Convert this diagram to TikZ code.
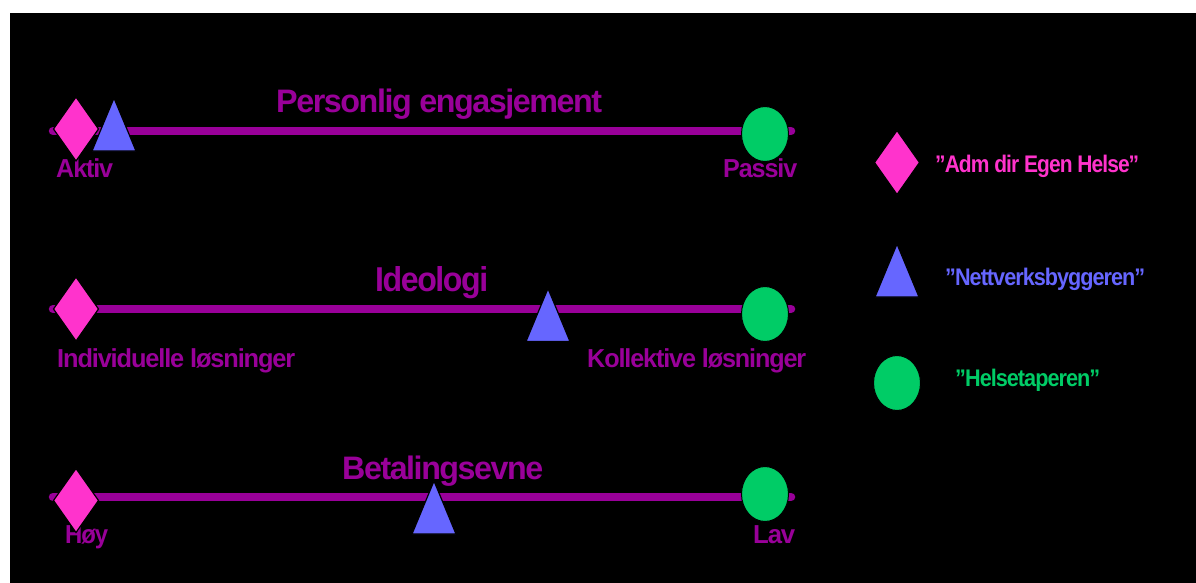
\documentclass[tikz,border=0pt]{standalone}
\usepackage{fontspec}
\setmainfont{Liberation Sans}
\usepackage{graphicx}
\definecolor{scalepurple}{HTML}{990099}
\definecolor{markpink}{HTML}{FF33CC}
\definecolor{markblue}{HTML}{6666FF}
\definecolor{markgreen}{HTML}{00CC66}
% tightly tracked bold text fitted to a given width, height kept
\newcommand{\fitto}[3]{\resizebox{#1pt}{\height}{\fontsize{#2}{#2}\selectfont\bfseries\addfontfeatures{LetterSpace=-4.5}#3}}
\begin{document}
\begin{tikzpicture}[x=1pt,y=-1pt,
  scaleline/.style={line width=8.5pt,scalepurple,line cap=round},
  txt/.style={inner sep=0pt,anchor=base west},
  dia/.pic={\filldraw[markpink,draw=black,line width=1.2pt] (0,-32)--(22.5,0)--(0,32)--(-22.5,0)--cycle;},
  tri/.pic={\filldraw[markblue,draw=black,line width=1.2pt] (0,-26.5)--(22,26.5)--(-22,26.5)--cycle;},
  oval/.pic={\filldraw[markgreen,draw=black,line width=1pt] (0,0) ellipse [x radius=23.5,y radius=27.5];}
]
\useasboundingbox (0,0) rectangle (1196,583);
\fill[white] (0,0) rectangle (1196,583);
\fill[black] (10,13) rectangle (1196,583);

% --- scale 1: Personlig engasjement
\coordinate (s1a) at (53,131);
\coordinate (s1b) at (791,131);
\draw[scaleline] (s1a) -- (s1b);
\node[txt,text=scalepurple] (t1) at (276,113) {\fitto{326}{32.5}{Personlig engasjement}};
\node[txt,text=scalepurple] (l1a) at (56,177) {\fitto{57}{26}{Aktiv}};
\node[txt,text=scalepurple] (l1b) at (723,177) {\fitto{74}{26}{Passiv}};
\pic at (765,134) {oval};
\pic at (114,124.5) {tri};
\pic at (76,129) {dia};

% --- scale 2: Ideologi
\coordinate (s2a) at (53,309);
\coordinate (s2b) at (791,309);
\draw[scaleline] (s2a) -- (s2b);
\node[txt,text=scalepurple] (t2) at (375,291) {\fitto{113}{34.5}{Ideologi}};
\node[txt,text=scalepurple] (l2a) at (57,367) {\fitto{238}{26}{Individuelle løsninger}};
\node[txt,text=scalepurple] (l2b) at (587,367) {\fitto{219}{26}{Kollektive løsninger}};
\pic at (765,314) {oval};
\pic at (548,315) {tri};
\pic at (76,309) {dia};

% --- scale 3: Betalingsevne
\coordinate (s3a) at (53,497);
\coordinate (s3b) at (791,497);
\draw[scaleline] (s3a) -- (s3b);
\node[txt,text=scalepurple] (t3) at (342,479) {\fitto{201}{32.5}{Betalingsevne}};
\node[txt,text=scalepurple] (l3a) at (65,543) {\fitto{43}{26}{Høy}};
\node[txt,text=scalepurple] (l3b) at (753,543) {\fitto{42}{26}{Lav}};
\pic at (765,494) {oval};
\pic at (434,507.5) {tri};
\pic at (76,500.5) {dia};

% --- legend
\pic at (897,162.5) {dia};
\node[txt,text=markpink] (k1) at (935,172) {\fitto{204}{24}{”Adm dir Egen Helse”}};
\pic at (897,270.5) {tri};
\node[txt,text=markblue] (k2) at (945,285) {\fitto{200}{24}{”Nettverksbyggeren”}};
\pic at (897,383) {oval};
\node[txt,text=markgreen] (k3) at (955,386) {\fitto{145}{24}{”Helsetaperen”}};
\end{tikzpicture}
\end{document}
